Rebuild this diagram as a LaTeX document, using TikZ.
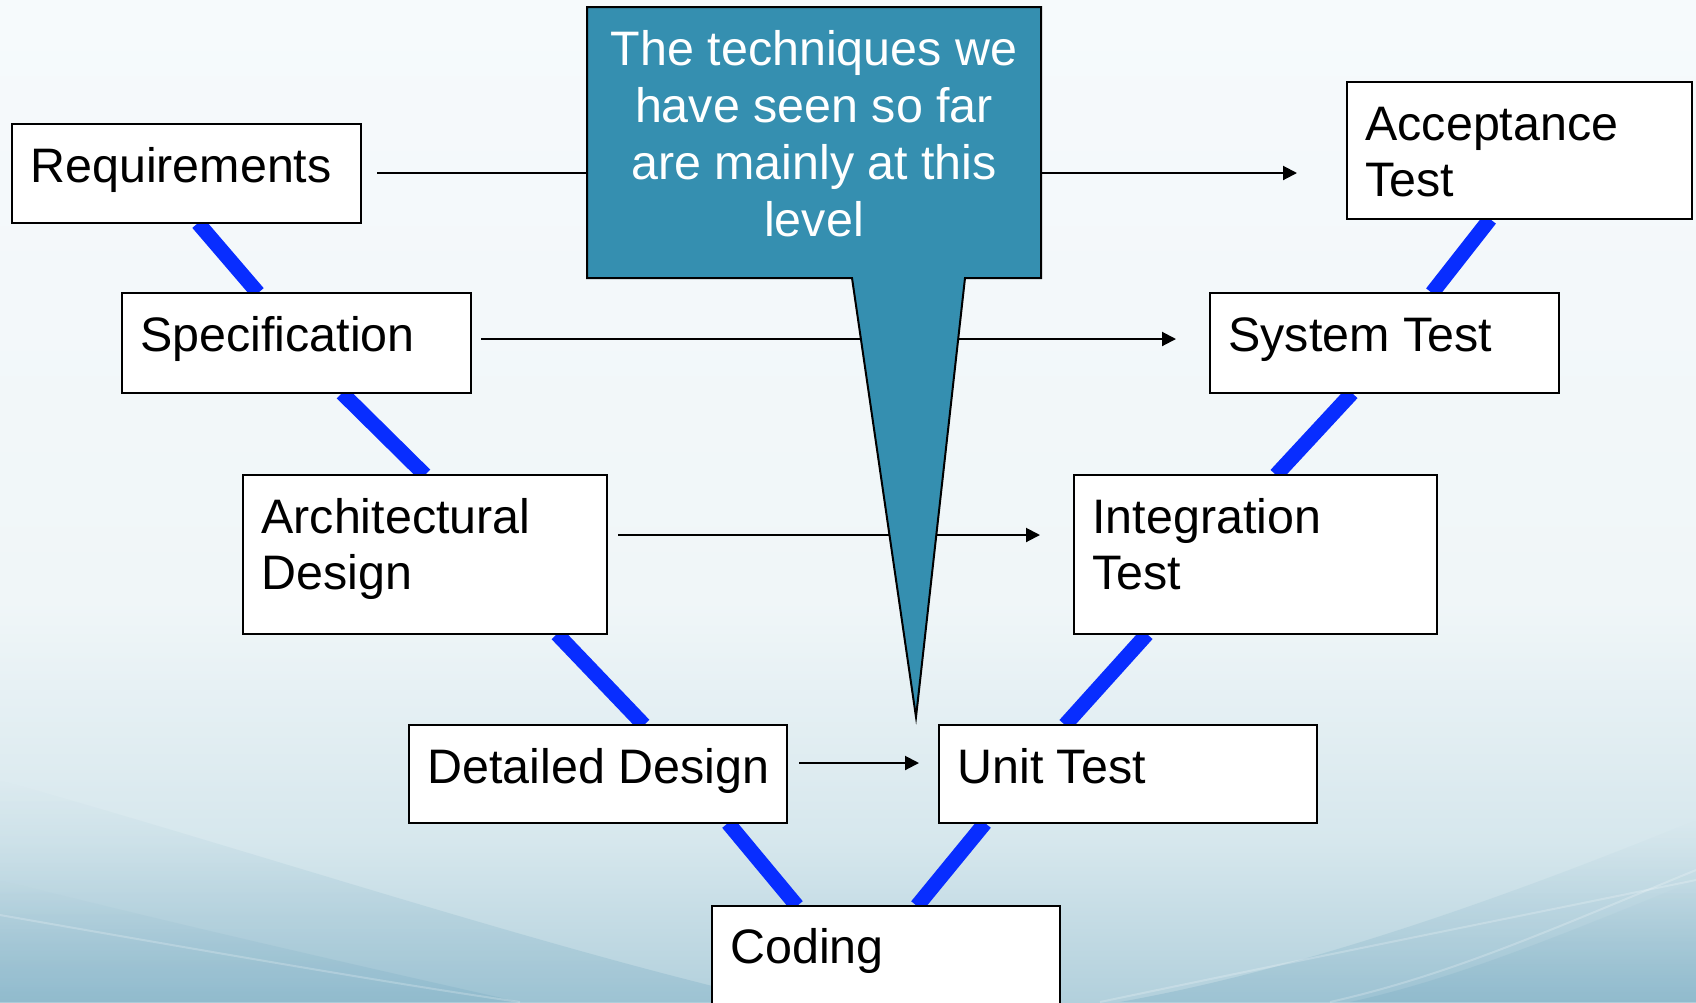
\documentclass[tikz,border=0pt]{standalone}
\usepackage{fontspec}
\setmainfont{Liberation Sans}
\usetikzlibrary{arrows.meta,calc,fadings}
\definecolor{calloutfill}{RGB}{53,143,176}
\definecolor{vblue}{RGB}{8,45,255}
\definecolor{bgtop}{RGB}{246,250,252}
\definecolor{bgtopb}{RGB}{240,246,248}
\definecolor{bgmid}{RGB}{214,231,237}
\definecolor{bgbot}{RGB}{178,208,220}
\definecolor{bgcorn}{RGB}{110,165,190}
\pgfdeclareverticalshading{bgshade}{100bp}{color(0bp)=(bgbot); color(25bp)=(bgbot); color(33bp)=(bgmid); color(45bp)=(bgtopb); color(75bp)=(bgtop); color(100bp)=(bgtop)}
\pgfdeclarelayer{bglayer}
\pgfdeclarelayer{linelayer}
\pgfsetlayers{bglayer,linelayer,main}
\newcommand{\mystrut}{\rule{0pt}{18pt}}
\begin{document}
\begin{tikzpicture}[x=0.5pt,y=-0.5pt,
  box/.style={draw=black, line width=1.3pt, fill=white, inner sep=0pt, outer sep=0pt, anchor=north west},
  lbl/.style={font=\fontsize{24.2}{28}\selectfont, inner sep=0pt, anchor=north west, align=left},
  vline/.style={draw=vblue, line width=7.5pt},
  link/.style={draw=black, line width=1pt, -{Triangle[length=7pt,width=7pt]}},
  streak/.style={draw=white, line width=1pt, opacity=0.22},
]
\useasboundingbox (0,0) rectangle (1696,1002);
\begin{pgfonlayer}{bglayer}
  \shade[shading=bgshade] (0,0) rectangle (1696,1002);
  \fill[bgcorn, opacity=0.3, path fading=north]
    (0,780) .. controls (250,850) and (550,950) .. (780,1002) -- (0,1002) -- cycle;
  \fill[bgcorn, opacity=0.25, path fading=north]
    (0,880) .. controls (200,930) and (400,975) .. (520,1002) -- (0,1002) -- cycle;
  \fill[bgcorn, opacity=0.3, path fading=north]
    (1696,820) .. controls (1500,900) and (1300,970) .. (1120,1002) -- (1696,1002) -- cycle;
  \fill[bgcorn, opacity=0.25, path fading=north]
    (1696,880) .. controls (1550,940) and (1450,980) .. (1350,1002) -- (1696,1002) -- cycle;
  \draw[streak] (0,915) .. controls (200,950) and (400,985) .. (520,1002);
  \draw[streak] (1696,880) .. controls (1500,920) and (1300,960) .. (1100,1002);
  \draw[streak] (1696,870) .. controls (1550,930) and (1450,975) .. (1330,1002);
\end{pgfonlayer}

% boxes
\node[box, minimum width=174.5pt, minimum height=49.5pt] (req)  at (12,124) {};
\node[box, minimum width=174.5pt, minimum height=50pt]   (spec) at (122,293) {};
\node[box, minimum width=182pt,   minimum height=79.5pt] (arch) at (243,475) {};
\node[box, minimum width=189pt,   minimum height=49pt]   (det)  at (409,725) {};
\node[box, minimum width=174pt,   minimum height=55pt]   (cod)  at (712,906) {};
\node[box, minimum width=189pt,   minimum height=49pt]   (unit) at (939,725) {};
\node[box, minimum width=181.5pt, minimum height=79.5pt] (int)  at (1074,475) {};
\node[box, minimum width=174.5pt, minimum height=50pt]   (sys)  at (1210,293) {};
\node[box, minimum width=172.5pt, minimum height=68.5pt] (acc)  at (1347,82) {};

% V lines
\begin{pgfonlayer}{linelayer}
  \draw[vline] ($(req.south west)+(186,0)$)  -- ($(spec.north west)+(136,0)$);
  \draw[vline] ($(spec.south west)+(220,0)$) -- ($(arch.north west)+(182,0)$);
  \draw[vline] ($(arch.south west)+(314,0)$) -- ($(det.north west)+(235,0)$);
  \draw[vline] ($(det.south west)+(319,0)$)  -- ($(cod.north west)+(85,0)$);
  \draw[vline] ($(cod.north west)+(205,0)$)  -- ($(unit.south west)+(46,0)$);
  \draw[vline] ($(unit.north west)+(126,0)$) -- ($(int.south west)+(73,0)$);
  \draw[vline] ($(int.north west)+(202,0)$)  -- ($(sys.south west)+(142,0)$);
  \draw[vline] ($(sys.north west)+(222,0)$)  -- ($(acc.south west)+(143,0)$);
\end{pgfonlayer}

% horizontal arrows
\draw[link] ($(req.north east)+(16,49)$)  -- ($(acc.north west)+(-50,91)$);
\draw[link] ($(spec.north east)+(10,46)$) -- ($(sys.north west)+(-34,46)$);
\draw[link] ($(arch.north east)+(11,60)$) -- ($(int.north west)+(-34,60)$);
\draw[link] ($(det.north east)+(12,38)$)  -- ($(unit.north west)+(-20,38)$);

% callout
\draw[fill=calloutfill, line width=1pt, line join=miter]
  (587,7) -- (1041,7) -- (1041,278) -- (965,278) -- (916,717) -- (852,278) -- (587,278) -- cycle;
\node[lbl, anchor=north, align=center, text=white, font=\fontsize{24.2}{28.5}\selectfont] (callout) at (814,29)
  {\mystrut The techniques we\\have seen so far\\are mainly at this\\level};

% labels
\node[lbl] (reqt)  at ($(req.north west)+(18,22)$)  {\mystrut Requirements};
\node[lbl] (spect) at ($(spec.north west)+(18,22)$) {\mystrut Specification};
\node[lbl] (archt) at ($(arch.north west)+(18,22)$) {\mystrut Architectural\\Design};
\node[lbl] (dett)  at ($(det.north west)+(18,22)$)  {\mystrut Detailed Design};
\node[lbl] (codt)  at ($(cod.north west)+(18,21)$)  {\mystrut Coding};
\node[lbl] (unitt) at ($(unit.north west)+(18,22)$) {\mystrut Unit Test};
\node[lbl] (intt)  at ($(int.north west)+(18,22)$)  {\mystrut Integration\\Test};
\node[lbl] (syst)  at ($(sys.north west)+(18,22)$)  {\mystrut System Test};
\node[lbl] (acct)  at ($(acc.north west)+(18,22)$)  {\mystrut Acceptance\\Test};
\end{tikzpicture}
\end{document}
